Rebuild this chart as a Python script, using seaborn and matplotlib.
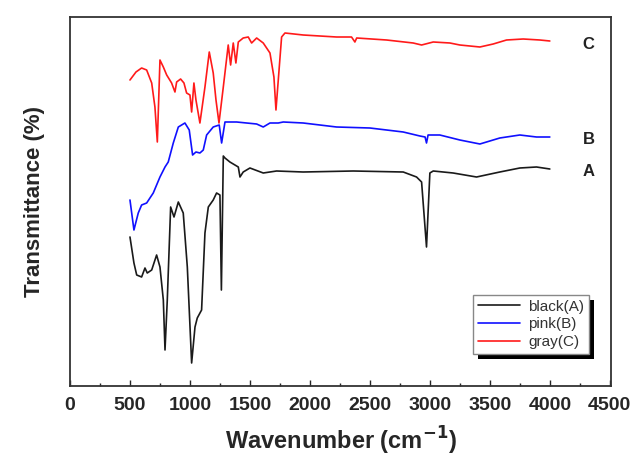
import numpy as np
import pandas as pd
import matplotlib
matplotlib.use("Agg")
import matplotlib.pyplot as plt
import seaborn as sns
from matplotlib.patches import Rectangle
from matplotlib.ticker import MultipleLocator

# FTIR spectra (arbitrary transmittance units, offset stacked)
wn_a = [500, 533, 556, 597, 625, 644, 681, 722, 750, 778, 792, 811, 839, 867, 903,
        944, 978, 1014, 1042, 1061, 1097, 1125, 1153, 1194, 1222, 1250, 1262, 1278,
        1292, 1333, 1403, 1417, 1444, 1500, 1611, 1722, 1944, 2361, 2778, 2889, 2931,
        2972, 3000, 3028, 3194, 3389, 3583, 3750, 3889, 4000]
t_a = [149, 123, 111, 109, 118, 113, 116, 131, 119, 86, 36, 86, 179, 169, 184,
       173, 119, 23, 59, 68, 76, 153, 179, 186, 193, 191, 96, 230,
       228, 224, 219, 209, 214, 218, 213, 215, 214, 215, 214, 209, 204,
       139, 213, 215, 213, 209, 214, 218, 219, 217]

wn_b = [500, 533, 569, 597, 639, 694, 750, 792, 819, 861, 903, 958, 994, 1022, 1050,
        1083, 1111, 1139, 1194, 1244, 1264, 1292, 1389, 1472, 1556, 1611, 1667, 1736,
        1778, 1944, 2222, 2500, 2778, 2917, 2960, 2972, 2985, 3083, 3250, 3417, 3583,
        3750, 3889, 4000]
t_b = [186, 156, 173, 181, 183, 193, 209, 219, 224, 243, 259, 263, 256, 231, 234,
       233, 236, 251, 259, 261, 243, 264, 264, 263, 262, 259, 263, 263,
       264, 263, 259, 258, 254, 250, 249, 243, 251, 251, 246, 242, 248,
       251, 249, 249]

wn_c = [500, 550, 597, 639, 681, 708, 728, 750, 778, 806, 847, 875, 889, 922, 950,
        972, 1000, 1014, 1033, 1050, 1083, 1125, 1161, 1194, 1217, 1242, 1278, 1319,
        1339, 1361, 1383, 1403, 1444, 1486, 1514, 1556, 1611, 1667, 1700, 1717, 1764,
        1792, 1944, 2222, 2347, 2375, 2390, 2639, 2861, 2931, 3028, 3167, 3250, 3417,
        3528, 3639, 3778, 3917, 4000]
t_c = [306, 314, 318, 316, 303, 279, 244, 326, 319, 311, 303, 294, 304, 307, 303,
       293, 291, 274, 303, 286, 263, 299, 334, 313, 286, 263, 299, 341,
       321, 343, 323, 344, 348, 349, 343, 348, 343, 333, 309, 276, 349,
       353, 351, 349, 349, 344, 348, 346, 343, 341, 344, 343, 341, 339,
       342, 346, 347, 346, 345]

series = ["black(A)", "pink(B)", "gray(C)"]
tags = ["A", "B", "C"]
colors = ["#1a1a1a", "#1010ff", "#ff1a1a"]

sns.set_style("white")
plt.rcParams["font.family"] = ["Liberation Sans", "DejaVu Sans"]

fig = plt.figure(figsize=(6.4, 4.68), dpi=100)
ax = fig.add_axes([70 / 640, 82 / 468, 541 / 640, 369 / 468])

for name, wn, t, col in zip(series, [wn_a, wn_b, wn_c], [t_a, t_b, t_c], colors):
    df = pd.DataFrame({"wn": wn, "t": t})
    sns.lineplot(data=df, x="wn", y="t", color=col, linewidth=1.2, label=name, ax=ax)

for tag, t in zip(tags, [t_a, t_b, t_c]):
    ax.text(4325, t[-1] - 3, tag, fontsize=12, fontweight="bold",
            ha="center", va="center", color="#222222")

ax.set_xlim(0, 4510)
ax.set_ylim(0, 369)
ax.xaxis.set_major_locator(MultipleLocator(500))
ax.xaxis.set_minor_locator(MultipleLocator(250))
ax.tick_params(axis="x", which="major", direction="in", length=4, width=1,
               bottom=True, top=False, labelsize=14, pad=8)
ax.tick_params(axis="x", which="minor", direction="in", length=2, width=1,
               bottom=True, top=False)
ax.set_yticks([])
for lab in ax.get_xticklabels():
    lab.set_fontweight("bold")
for sp in ax.spines.values():
    sp.set_color("#333333")
    sp.set_linewidth(1.3)

ax.set_xlabel("Wavenumber (cm$^{\\mathbf{-1}}$)", fontsize=17, fontweight="bold",
              labelpad=8)
ax.set_ylabel("Transmittance (%)", fontsize=16, fontweight="bold", labelpad=18)

leg = ax.legend(loc="upper left", bbox_to_anchor=((473 - 70) / 541, (386 - 295) / 369),
                borderaxespad=0, fontsize=11, frameon=True, fancybox=False,
                framealpha=1, edgecolor="#888888", handlelength=2.8,
                labelspacing=0.25, borderpad=0.3, handletextpad=0.5)
leg.get_frame().set_linewidth(1.0)
for txt in leg.get_texts():
    txt.set_color("#333333")

# solid black drop shadow behind the legend box
fig.canvas.draw()
bb = leg.get_window_extent()
inv = fig.transFigure.inverted()
(x0, y0) = inv.transform((bb.x0 + 5, bb.y0 - 5))
(x1, y1) = inv.transform((bb.x1 + 5, bb.y1 - 5))
ax.add_patch(Rectangle((x0, y0), x1 - x0, y1 - y0, transform=fig.transFigure,
                       facecolor="black", edgecolor="none", zorder=4, clip_on=False))

fig.savefig("out.png", dpi=100)
